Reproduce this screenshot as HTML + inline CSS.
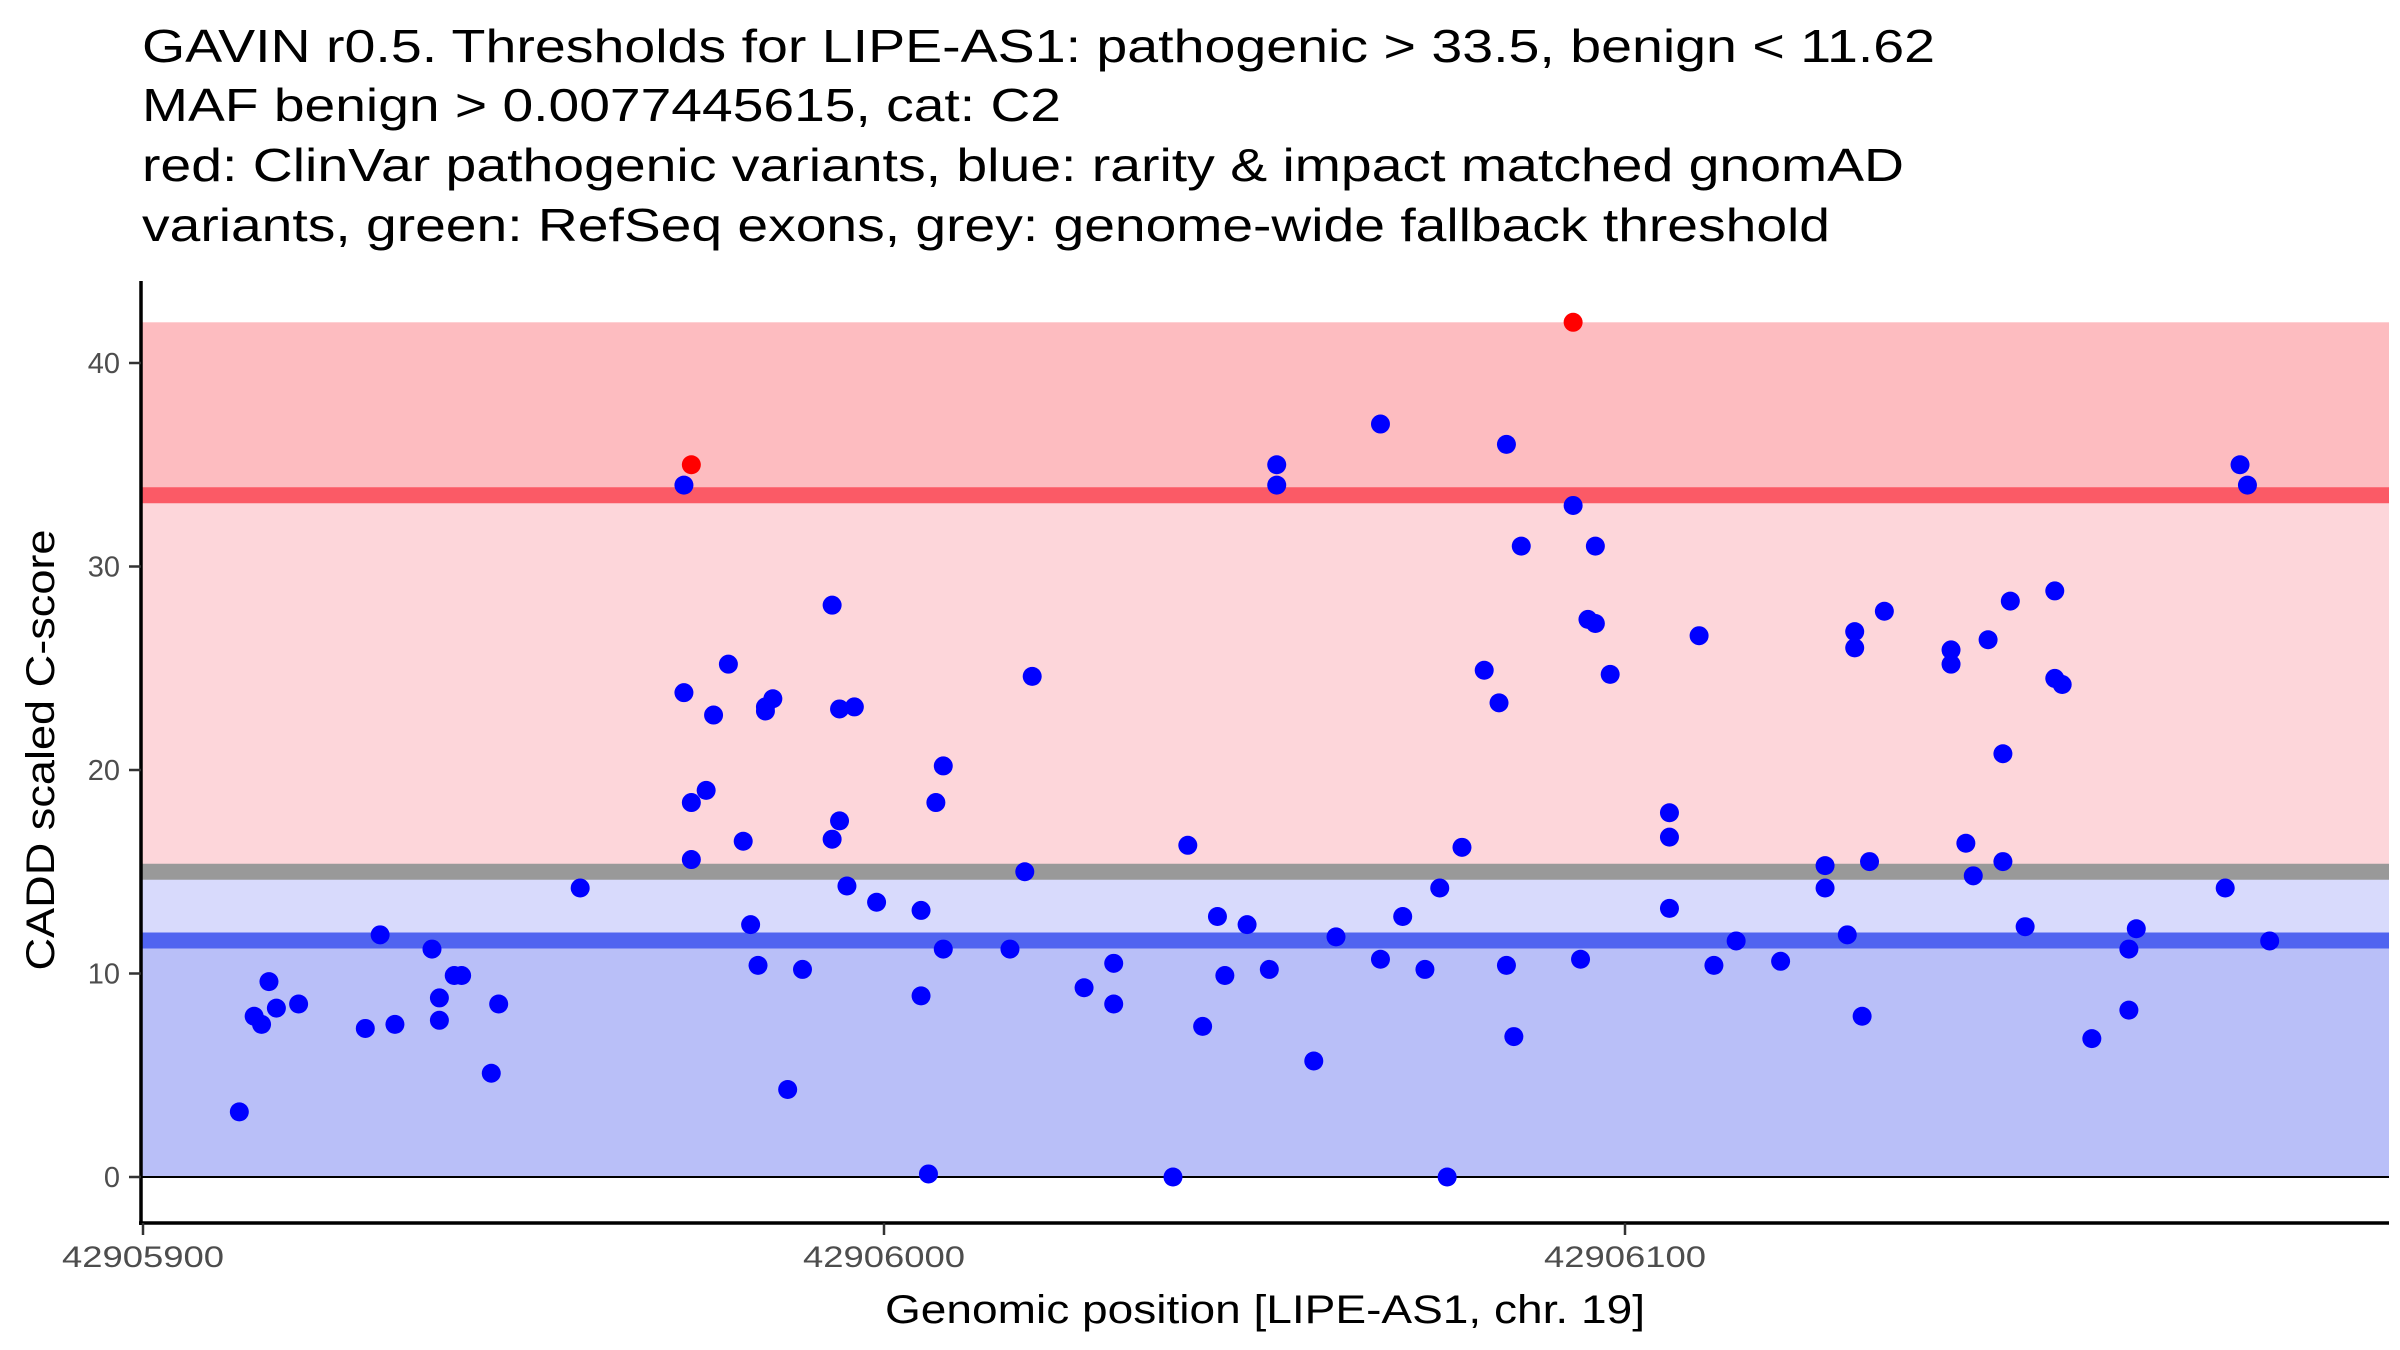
<!DOCTYPE html>
<html><head><meta charset="utf-8"><style>
html,body{margin:0;padding:0;background:#fff;}
svg{display:block;font-family:"Liberation Sans",Arial,sans-serif;}
</style></head><body>
<svg id="chart" width="2400" height="1350" viewBox="0 0 2400 1350" xmlns="http://www.w3.org/2000/svg">
<g font-size="46" fill="#000">
<text x="142" y="62" textLength="1793" lengthAdjust="spacingAndGlyphs">GAVIN r0.5. Thresholds for LIPE-AS1: pathogenic &gt; 33.5, benign &lt; 11.62</text>
<text x="142" y="121" textLength="919" lengthAdjust="spacingAndGlyphs">MAF benign &gt; 0.0077445615, cat: C2</text>
<text x="142" y="181" textLength="1762" lengthAdjust="spacingAndGlyphs">red: ClinVar pathogenic variants, blue: rarity &amp; impact matched gnomAD</text>
<text x="142" y="241" textLength="1688" lengthAdjust="spacingAndGlyphs">variants, green: RefSeq exons, grey: genome-wide fallback threshold</text>
</g>
<g id="bands"></g>
<g id="points"></g>
<g id="axes"></g>
<text x="1265" y="1323" font-size="40" text-anchor="middle" textLength="760" lengthAdjust="spacingAndGlyphs">Genomic position [LIPE-AS1, chr. 19]</text>
<text transform="translate(54,750) rotate(-90)" font-size="40" text-anchor="middle" textLength="441" lengthAdjust="spacingAndGlyphs">CADD scaled C-score</text>
</svg>
<script>
const benignPos = [42905913,42905915,42905916,42905917,42905918,42905921,42905930,42905932,42905934,42905939,42905940,42905940,42905942,42905943,42905947,42905948,42905959,
42905973,42905973,42905974,42905974,42905976,42905977,42905979,42905981,42905982,42905983,42905984,42905984,42905985,42905987,42905989,42905993,42905993,42905994,42905994,42905995,42905996,42905999,
42906005,42906005,42906006,42906007,42906008,42906008,42906017,42906019,42906020,42906027,42906031,42906031,42906039,42906041,42906043,42906045,42906046,42906049,42906052,42906053,42906053,42906058,42906061,
42906067,42906067,42906070,42906073,42906075,42906076,42906078,42906081,42906083,42906084,42906084,42906085,42906086,
42906093,42906094,42906095,42906096,42906096,42906098,42906106,42906106,42906106,42906110,42906112,42906115,42906121,42906127,42906127,42906130,42906131,42906131,42906132,42906133,42906135,
42906144,42906144,42906146,42906147,42906149,42906151,42906151,42906152,42906154,42906158,42906158,42906159,42906163,42906168,42906168,42906169,42906181,42906183,42906184,42906187];
const benignScore = [3.2,7.9,7.5,9.6,8.3,8.5,7.3,11.9,7.5,11.2,8.8,7.7,9.9,9.9,5.1,8.5,14.2,
34.0,23.8,18.4,15.6,19.0,22.7,25.2,16.5,12.4,10.4,22.9,23.1,23.5,4.3,10.2,28.1,16.6,17.5,23.0,14.3,23.1,13.5,
13.1,8.9,0.15,18.4,20.2,11.2,11.2,15.0,24.6,9.3,10.5,8.5,0,16.3,7.4,12.8,9.9,12.4,10.2,35.0,34.0,5.7,11.8,
37.0,10.7,12.8,10.2,14.2,0,16.2,24.9,23.3,36.0,10.4,6.9,31.0,
33.0,10.7,27.4,27.2,31.0,24.7,17.9,16.7,13.2,26.6,10.4,11.6,10.6,15.3,14.2,11.9,26.8,26.0,7.9,15.5,27.8,
25.9,25.2,16.4,14.8,26.4,20.8,15.5,28.3,12.3,28.8,24.5,24.2,6.8,11.2,8.2,12.2,14.2,35.0,34.0,11.6];
const pathoPos = [42905974,42906093];
const pathoScore = [35.0,42.0];
const xTicks = [42905900,42906000,42906100];
const yTicks = [0,10,20,30,40];
const thresholds = [33.5,15.0,11.62];
const bandTop = [42];

const NS="http://www.w3.org/2000/svg";
const X0=42905900, PX0=143, PXU=7.41;
const sx=v=>PX0+(v-X0)*PXU;
const sy=v=>1177-v*20.35;
const L=141, R=2389;
function mk(tag,attrs,parent){const e=document.createElementNS(NS,tag);for(const k in attrs)e.setAttribute(k,attrs[k]);parent.appendChild(e);return e;}
const bands=document.getElementById('bands');
function band(y1,y2,fill,name){const r=mk('rect',{x:L,y:sy(y1),width:R-L,height:sy(y2)-sy(y1),fill:fill},bands);

}
band(bandTop[0],thresholds[0],'#fdbcc0','pathogenic-band');
band(thresholds[0],thresholds[1],'#fdd6da','gene-pathogenic-range');
band(thresholds[1],thresholds[2],'#d8dafc','gene-benign-range');
band(thresholds[2],0,'#b9bff8','benign-band');
const lineCols=['#fb5a66','#999999','#5064f0'];
const lineNames=['pathogenic-threshold-line','fallback-threshold-line','benign-threshold-line'];
thresholds.forEach((t,i)=>{const l=mk('line',{x1:L,x2:R,y1:sy(t),y2:sy(t),stroke:lineCols[i],'stroke-width':16},bands);

});
const zl=mk('line',{x1:L,x2:R,y1:sy(0),y2:sy(0),stroke:'#000','stroke-width':2},bands);



const pts=document.getElementById('points');
benignPos.forEach((p,i)=>{const c=mk('circle',{cx:sx(p),cy:sy(benignScore[i]),r:9.5,fill:'#0000ff'},pts);

});
pathoPos.forEach((p,i)=>{const c=mk('circle',{cx:sx(p),cy:sy(pathoScore[i]),r:9.5,fill:'#ff0000'},pts);

});

const ax=document.getElementById('axes');
const ya=mk('line',{x1:L,x2:L,y1:281,y2:1225,stroke:'#000','stroke-width':3.5},ax);


const xa=mk('line',{x1:L-2,x2:R,y1:1223,y2:1223,stroke:'#000','stroke-width':3.5},ax);


yTicks.forEach(t=>{const tk=mk('line',{x1:L-12,x2:L,y1:sy(t),y2:sy(t),stroke:'#333','stroke-width':2.5},ax);


const tl=mk('text',{x:L-21,y:sy(t)+10,'font-size':29,fill:'#4d4d4d','text-anchor':'end'},ax);tl.textContent=t;

});
xTicks.forEach(t=>{const tk=mk('line',{x1:sx(t),x2:sx(t),y1:1223,y2:1235,stroke:'#333','stroke-width':2.5},ax);


const tl=mk('text',{x:sx(t),y:1267,'font-size':30,fill:'#4d4d4d','text-anchor':'middle',textLength:162,lengthAdjust:'spacingAndGlyphs'},ax);tl.textContent=t;

});
</script>
</body></html>
